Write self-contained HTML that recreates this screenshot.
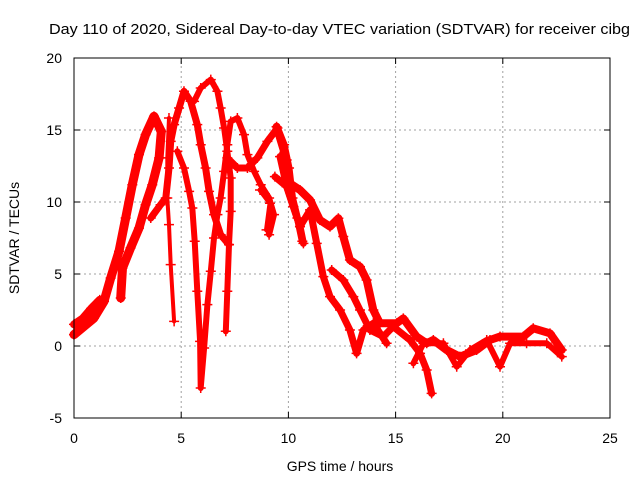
<!DOCTYPE html>
<html><head><meta charset="utf-8"><style>
body{margin:0;background:#fff;}
svg{display:block;font-family:"Liberation Sans",Arial,sans-serif;}
</style></head><body>
<svg id="chart" width="640" height="480" viewBox="0 0 640 480" xmlns="http://www.w3.org/2000/svg">
<rect width="640" height="480" fill="#fff"/>
<text x="49" y="34" font-size="15" textLength="581" lengthAdjust="spacingAndGlyphs" fill="#000">Day 110 of 2020, Sidereal Day-to-day VTEC variation (SDTVAR) for receiver cibg</text>
<g id="grid"></g>
<g id="series"></g>
<rect x="74" y="58" width="536" height="360" fill="none" stroke="#000" stroke-width="1"/>
<g id="ticks"></g>
<text x="340" y="471" font-size="14" text-anchor="middle">GPS time / hours</text>
<text x="0" y="0" font-size="14" text-anchor="middle" transform="translate(19,238) rotate(-90)">SDTVAR / TECUs</text>
</svg>
<script>
const xTicks=[0,5,10,15,20,25];
const yTicks=[-5,0,5,10,15,20];
const s1t=[0,0.93,1.40,1.71,2.10,2.41,2.72,3.03,3.34,3.73,4.07,3.97,3.65,3.34,3.03,2.64,2.26,2.18];
const s1v=[0.79,1.94,3.1,4.72,6.57,8.89,11.2,13.29,14.68,15.95,14.9,13.06,11.2,9.81,8.19,6.81,5.42,3.33];
const s2t=[3.58,4.04,4.28,4.43,4.51,4.67,4.90,5.13,5.44,5.75,5.91,6.14,6.30,6.53,6.84,7.23];
const s2v=[8.89,9.81,10.28,12.36,14.21,15.37,16.53,17.69,17.0,15.37,13.98,12.36,10.74,9.12,7.73,7.04];
const s3t=[4.43,4.35,4.35,4.43,4.51,4.67];
const s3v=[15.83,13.06,10.28,8.43,5.65,1.71];
const s4t=[4.82,5.13,5.37,5.52,5.63,5.75,5.88,5.91,6.07,6.22,6.38,6.53,6.69,6.84,7.0,7.15,7.31,7.62,7.93,8.09,8.40,8.71,9.10,9.33,9.10];
const s4v=[13.52,12.36,10.74,9.58,7.27,3.80,0.32,-2.92,-0.14,2.87,5.19,7.5,9.12,10.28,12.13,13.98,15.6,15.83,14.68,13.29,12.13,11.2,10.28,9.12,7.73];
const s5t=[5.6,5.91,6.38,6.69,6.84,7.0,7.15,7.31,7.31,7.23,7.15,7.08];
const s5v=[16.99,17.92,18.5,17.69,16.53,15.14,13.52,11.67,9.35,7.04,3.8,1.02];
const s6t=[7.15,7.62,8.09,8.55,9.02,9.49,9.80,10.03,10.19,10.42,10.65];
const s6v=[13.06,12.36,12.36,13.06,14.21,15.14,13.98,12.36,10.28,8.89,7.27];
const s7t=[9.45,9.92,10.07,10.54,11.01,11.47,11.94,12.33,12.56,12.87,13.34,13.65,13.96,14.27,15.05,15.36,15.98,16.45,16.76,17.38,18.0,18.78,19.4,19.87,20.96,21.42,22.2,22.75];
const s7v=[15.23,12.92,11.3,10.83,10.14,8.75,8.29,8.87,7.6,5.97,5.51,4.58,2.5,1.58,1.58,1.92,0.65,0.19,0.42,-0.28,-0.74,-0.28,0.42,0.65,0.65,1.23,0.88,-0.28];
const s8t=[9.61,9.92,10.23,10.54,11.01,11.32,11.63,11.94,12.41,12.87,13.18,13.5,13.96,14.58];
const s8v=[13.15,11.07,9.68,8.29,9.45,7.13,4.82,3.43,2.5,1.11,-0.51,1.11,1.58,0.19];
const s9t=[12.02,12.56,13.03,13.34,13.8,14.43,14.89,15.67,16.14,16.45,16.68];
const s9v=[5.28,4.58,3.43,2.5,1.11,0.65,1.35,0.42,-0.51,-1.67,-3.29];
const s10t=[15.83,16.3,17.23,17.85,18.47,19.25,19.87,20.34,21.11,22.05,22.75];
const s10v=[-1.2,0.19,0.19,-1.44,-0.28,0.42,-1.44,0.19,0.19,0.19,-0.74];
const s11t=[8.675,9.14,8.98];
const s11v=[10.83,9.91,8.06];
const s12t=[9.37,9.92,10.23,10.54,10.7];
const s12v=[11.76,11.07,9.68,8.29,7.13];
const s13t=[0,0.4,0.8,1.2];
const s13v=[1.5,1.9,2.6,3.2];
const seriesT=[s1t,s2t,s3t,s4t,s5t,s6t,s7t,s8t,s9t,s10t,s11t,s12t,s13t];
const seriesV=[s1v,s2v,s3v,s4v,s5v,s6v,s7v,s8v,s9v,s10v,s11v,s12v,s13v];
const seriesW=[9,7,4,6,6,7,8,7,7,6,5,7,8];

const X0=74,X1=610,Y0=418,Y1=58;
const xs=t=>X0+(t-0)/(25-0)*(X1-X0);
const ys=v=>Y0-(v+5)/(20+5)*(Y0-Y1);
const NS="http://www.w3.org/2000/svg";
const grid=document.getElementById('grid'),ticks=document.getElementById('ticks'),ser=document.getElementById('series');
function mk(tag,attrs,parent){const e=document.createElementNS(NS,tag);for(const k in attrs)e.setAttribute(k,attrs[k]);parent.appendChild(e);return e;}
xTicks.forEach(t=>{
  const x=xs(t);
  if(t>0&&t<25){const g=mk('line',{x1:x,y1:Y0,x2:x,y2:Y1,stroke:'#a0a0a0','stroke-dasharray':'2,3'},grid);
  
  }
  const a=mk('line',{x1:x,y1:Y0,x2:x,y2:Y0-6,stroke:'#000'},ticks);
  
  
  const b=mk('line',{x1:x,y1:Y1,x2:x,y2:Y1+6,stroke:'#000'},ticks);
  
  
  const l=mk('text',{x:x,y:443,'font-size':14,'text-anchor':'middle'},ticks);l.textContent=t;
  
  
});
yTicks.forEach(v=>{
  const y=ys(v);
  if(v>-5&&v<20){const g=mk('line',{x1:X0,y1:y,x2:X1,y2:y,stroke:'#a0a0a0','stroke-dasharray':'2,3'},grid);
  
  }
  const a=mk('line',{x1:X0,y1:y,x2:X0+6,y2:y,stroke:'#000'},ticks);
  
  
  const b=mk('line',{x1:X1,y1:y,x2:X1-6,y2:y,stroke:'#000'},ticks);
  
  
  const l=mk('text',{x:62,y:y+5,'font-size':14,'text-anchor':'end'},ticks);l.textContent=v;
  
  
});
seriesT.forEach((ts,i)=>{
  const vs=seriesV[i];
  const pts=ts.map((t,j)=>xs(t).toFixed(1)+','+ys(vs[j]).toFixed(1)).join(' ');
  const p=mk('polyline',{points:pts,fill:'none',stroke:'#ff0000','stroke-width':seriesW[i],'stroke-linejoin':'round','stroke-linecap':'round'},ser);
  
  
  ts.forEach((t,j)=>{
    const x=xs(t),y=ys(vs[j]);
    const m=mk('path',{d:`M${x-5},${y}h10M${x},${y-5}v10`,stroke:'#ff0000','stroke-width':1.5},ser);
    
    
  });
});
</script>
</body></html>
